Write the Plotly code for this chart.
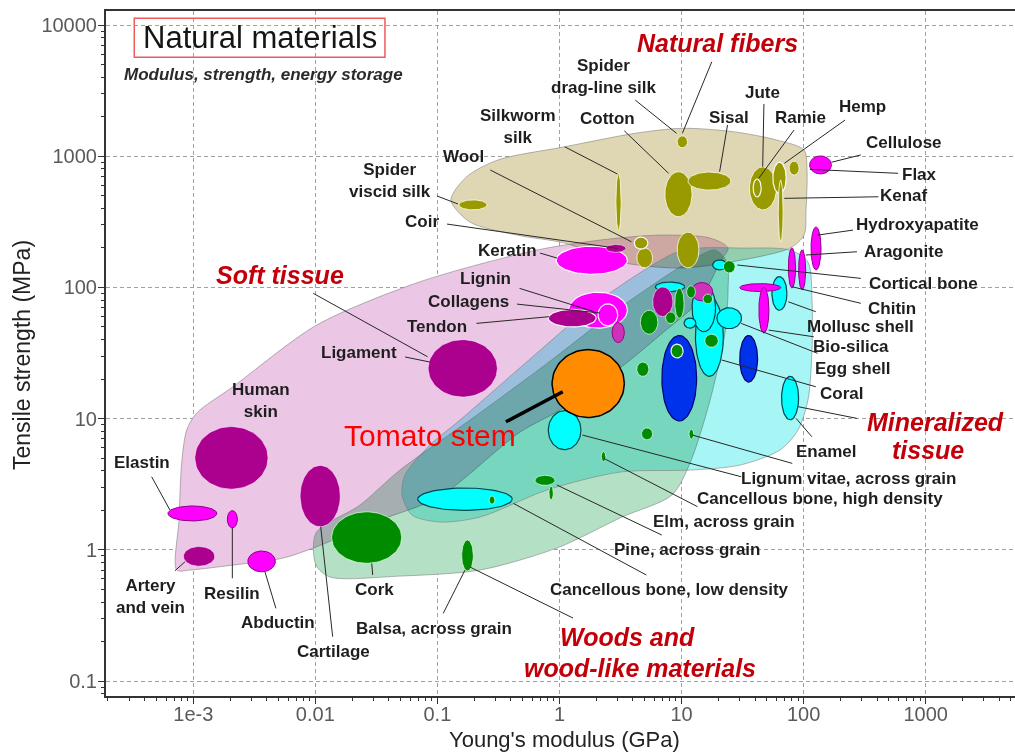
import numpy as np
import plotly.graph_objects as go

FONT = "Liberation Sans, Arial, Helvetica, sans-serif"

# ---------------------------------------------------------------------------
# Material-class envelopes, vertices as log10(E / GPa) and log10(strength / MPa)
# ---------------------------------------------------------------------------
FIBER_ENV_LOGE = [-0.889, -0.760, -0.503, 0.043, 0.621, 1.007, 1.424, 1.778, 2.004, 2.028,
                  2.020, 2.004, 1.889, 1.397, 0.987, 0.496, 0.045, -0.348, -0.733]
FIBER_ENV_LOGS = [2.666, 2.844, 2.972, 3.072, 3.175, 3.213, 3.187, 3.124, 3.047, 2.895,
                  2.590, 2.399, 2.300, 2.193, 2.148, 2.193, 2.338, 2.399, 2.498]

SOFT_ENV_LOGE = [-3.136, -3.117, -3.095, -3.054, -2.972, -2.675, -1.989, -1.143, -0.184, 0.332,
                 0.824, 1.234, 1.381, 1.315, 1.151, 0.824, 0.496, 0.005, -0.323, -0.987,
                 -1.470, -1.989, -2.265, -2.675, -3.028]
SOFT_ENV_LOGS = [-0.154, 0.227, 0.662, 0.913, 1.043, 1.243, 1.713, 2.043, 2.285, 2.361,
                 2.399, 2.377, 2.300, 2.193, 1.904, 1.637, 1.386, 1.066, 0.898, 0.402,
                 0.227, 0.024, -0.063, -0.116, -0.154]

WOOD_ENV_LOGE = [-1.995, -1.635, -1.307, -0.733, -0.118, 0.414, 0.824, 1.111, 1.274, 1.372,
                 1.381, 1.356, 1.234, 1.070, 0.922, 0.512, -0.012, -0.651, -1.307, -1.880, -1.995]
WOOD_ENV_LOGS = [0.128, 0.341, 0.608, 0.989, 1.409, 1.790, 2.057, 2.224, 2.285, 2.193,
                 1.980, 1.653, 1.142, 0.662, 0.418, 0.250, 0.017, -0.154, -0.200, -0.207, -0.116]

MINERAL_ENV_LOGE = [0.943, 1.151, 1.479, 1.889, 2.036, 2.069, 2.069, 2.036, 1.954, 1.807,
                    1.479, 1.070, 0.496, -0.102, -0.651, -0.979, -1.208, -1.290, -1.266, -1.061,
                    -0.815, -0.250, 0.332]
MINERAL_ENV_LOGS = [2.262, 2.300, 2.300, 2.285, 2.193, 1.904, 1.523, 1.142, 0.913, 0.761,
                    0.646, 0.608, 0.593, 0.456, 0.250, 0.212, 0.265, 0.418, 0.570, 0.799,
                    0.989, 1.447, 1.904]

# ---------------------------------------------------------------------------
# Materials: (name, E low, E high [GPa], strength low, strength high [MPa], tone)
# ---------------------------------------------------------------------------
MINERALIZED = [
    ("Cortical bone", 18, 23.4, 136, 162, "cyan"),
    ("Bone", 6.9, 13.3, 9.6, 43, "blue"),
    ("Egg shell", 30, 42, 19, 43, "blue"),
    ("Coral", 13, 22, 21, 85, "cyan"),
    ("Coral, dense", 12.2, 19, 46, 106, "cyan"),
    ("Dentin", 6.1, 10.6, 93, 110, "cyan"),
    ("Antler", 10.5, 13.1, 49, 58.5, "cyan"),
    ("Bio-silica", 19.5, 31, 48.5, 70, "cyan"),
    ("Mollusc shell", 55, 73, 67, 121, "cyan"),
    ("Enamel", 66, 91, 9.8, 21, "cyan"),
    ("Pine, across grain", 0.069, 0.41, 2.0, 2.96, "cyan"),
    ("Cancellous bone", 0.81, 1.5, 5.8, 11.5, "cyan"),
    ("Chitin", 30, 65, 93, 107, "magenta"),
    ("Chitin, oriented", 43, 52, 45, 100, "magenta"),
    ("Aragonite", 75, 86, 99, 200, "magenta"),
    ("Calcite", 91, 104, 96, 193, "magenta"),
    ("Hydroxyapatite", 115, 139, 136, 289, "magenta"),
]

SOFT_TISSUE = [
    ("Keratin", 0.94, 3.6, 126, 206, "magenta"),
    ("Coir", 2.4, 3.5, 185, 213, "purple"),
    ("Lignin", 1.19, 3.6, 49, 92, "magenta"),
    ("Lignin, dense", 2.07, 3.0, 51, 75, "magenta"),
    ("Collagens", 2.7, 3.4, 38, 54, "orchid"),
    ("Tendon", 0.81, 2.0, 50, 68, "purple"),
    ("Ligament", 0.084, 0.31, 14.6, 40, "purple"),
    ("Human skin", 0.00103, 0.0041, 2.9, 8.7, "purple"),
    ("Cartilage", 0.0075, 0.016, 1.5, 4.4, "purple"),
    ("Elastin", 0.00062, 0.00156, 1.66, 2.16, "magenta"),
    ("Resilin", 0.0019, 0.0023, 1.47, 1.99, "magenta"),
    ("Artery and vein", 0.00083, 0.0015, 0.75, 1.06, "purple"),
    ("Abductin", 0.0028, 0.0047, 0.68, 0.98, "magenta"),
    ("Protein A", 5.8, 8.5, 60, 101, "purple"),
    ("Protein B", 12, 18, 79, 109, "orchid"),
]

NATURAL_FIBERS = [
    ("Spider viscid silk", 0.15, 0.255, 390, 465, "fiber"),
    ("Silkworm silk", 2.9, 3.2, 270, 745, "fiber"),
    ("Spider drag-line silk", 9.2, 11.2, 1160, 1430, "fiber"),
    ("Cotton", 7.3, 12.2, 346, 762, "fiber"),
    ("Fiber, low", 9.2, 13.9, 141, 264, "fiber"),
    ("Sisal", 11.3, 25.4, 552, 758, "fiber"),
    ("Jute", 36, 60, 390, 830, "fiber"),
    ("Jute, core", 38.6, 44.9, 489, 670, "fiber"),
    ("Ramie", 56, 72, 520, 900, "fiber"),
    ("Kenaf", 62, 68, 222, 658, "fiber"),
    ("Hemp", 76, 92, 718, 918, "fiber"),
    ("Cellulose", 112, 169, 733, 1005, "magenta"),
    ("Wool", 4.3, 5.8, 141, 200, "fiber"),
    ("Wool, fine", 4.1, 5.3, 196, 242, "fiber"),
]

WOODS = [
    ("Cork", 0.0136, 0.051, 0.79, 1.95, "wood"),
    ("Balsa, across grain", 0.158, 0.197, 0.69, 1.19, "wood"),
    ("Pine, core", 0.265, 0.296, 2.23, 2.57, "wood"),
    ("Elm, across grain", 0.63, 0.92, 3.1, 3.7, "wood"),
    ("Elm, narrow", 0.82, 0.89, 2.4, 3.06, "wood"),
    ("Cancellous, high density", 2.2, 2.4, 4.7, 5.6, "wood"),
    ("Wood 1", 4.7, 5.8, 6.9, 8.5, "wood"),
    ("Lignum vitae, across grain", 11.5, 12.6, 7.0, 8.3, "wood"),
    ("Wood 2", 4.3, 5.4, 21, 27, "wood"),
    ("Wood 3", 4.6, 6.4, 44, 67, "wood"),
    ("Wood 4", 7.4, 9.0, 53, 65, "wood"),
    ("Wood 5", 8.8, 10.5, 58, 99, "wood"),
    ("Wood 6", 11, 13, 83, 103, "wood"),
    ("Wood 7", 15, 18, 75, 89, "wood"),
    ("Wood 8", 15.5, 20, 35, 44, "wood"),
    ("Bone, core", 8.2, 10.3, 29, 37, "wood"),
    ("Cortical, axial", 22, 27.5, 129, 160, "wood"),
]

TOMATO = [("Tomato stem", 0.87, 3.4, 10.2, 33.6, "tomato")]

# Leader lines: (log E start, log S start, log E end, log S end)
LEADERS = [
    (1.248, 3.720, 1.007, 3.175), (0.621, 3.428, 0.959, 3.175), (0.043, 3.072, 0.476, 2.864),
    (0.531, 3.194, 0.894, 2.870), (1.377, 3.238, 1.312, 2.882), (1.675, 3.398, 1.665, 2.920),
    (1.922, 3.200, 1.633, 2.832), (2.340, 3.276, 1.842, 2.946), (2.469, 3.010, 2.228, 2.954),
    (2.774, 2.870, 2.051, 2.900), (2.613, 2.691, 1.842, 2.679), (2.405, 2.437, 2.115, 2.399),
    (2.437, 2.272, 2.019, 2.247), (-0.567, 2.895, 0.590, 2.348), (-1.003, 2.697, -0.831, 2.636),
    (-0.921, 2.483, 0.476, 2.298), (-0.159, 2.262, -0.020, 2.224), (-0.327, 1.993, 0.284, 1.815),
    (-0.348, 1.873, 0.332, 1.805), (-0.680, 1.726, -0.086, 1.777), (-1.265, 1.470, -1.060, 1.431),
    (-2.017, 1.955, -1.081, 1.472), (1.457, 2.171, 2.469, 2.069), (1.907, 2.005, 2.469, 1.879),
    (1.874, 1.891, 2.100, 1.815), (1.714, 1.675, 2.083, 1.624), (1.489, 1.726, 2.115, 1.498),
    (1.329, 1.447, 2.100, 1.243), (1.955, 1.091, 2.437, 1.002), (1.938, 1.002, 2.068, 0.862),
    (1.088, 0.875, 1.907, 0.659), (0.188, 0.875, 1.489, 0.557), (0.364, 0.697, 1.131, 0.329),
    (-0.021, 0.494, 0.838, 0.113), (-0.377, 0.354, 0.712, -0.192), (-0.733, -0.131, 0.111, -0.520),
    (-3.341, 0.557, -3.191, 0.303), (-3.150, -0.159, -3.068, -0.091), (-2.680, 0.168, -2.680, -0.217),
    (-2.413, -0.167, -2.323, -0.446), (-1.956, 0.176, -1.858, -0.662), (-1.538, -0.103, -1.530, -0.192),
    (-0.774, -0.154, -0.952, -0.484),
]
TOMATO_POINTER = (-0.439, 0.976, 0.027, 1.205)

# Material labels: (text, log E, log S)
BLACK_LABELS = [
    ("Spider<br>drag-line silk", 0.357, 3.608), ("Silkworm<br>silk", -0.343, 3.230),
    ("Cotton", 0.396, 3.289), ("Sisal", 1.392, 3.296), ("Jute", 1.665, 3.487),
    ("Ramie", 1.971, 3.296), ("Hemp", 2.479, 3.377), ("Cellulose", 2.823, 3.103),
    ("Flax", 2.951, 2.864), ("Kenaf", 2.823, 2.704), ("Hydroxyapatite", 2.934, 2.483),
    ("Aragonite", 2.815, 2.272), ("Wool", -0.786, 2.996), ("Spider<br>viscid silk", -1.388, 2.818),
    ("Coir", -1.129, 2.501), ("Keratin", -0.423, 2.280), ("Lignin", -0.606, 2.069),
    ("Collagens", -0.744, 1.891), ("Tendon", -1.001, 1.706), ("Ligament", -1.640, 1.502),
    ("Human<br>skin", -2.445, 1.139), ("Elastin", -3.423, 0.664), ("Artery<br>and vein", -3.354, -0.352),
    ("Resilin", -2.685, -0.332), ("Abductin", -2.304, -0.556), ("Cartilage", -1.853, -0.777),
    ("Cork", -1.519, -0.301), ("Balsa, across grain", -1.028, -0.596),
    ("Cortical bone", 2.983, 2.031), ("Chitin", 2.725, 1.841), ("Mollusc shell", 2.469, 1.706),
    ("Bio-silica", 2.389, 1.548), ("Egg shell", 2.405, 1.383), ("Coral", 2.307, 1.193),
    ("Enamel", 2.180, 0.748), ("Lignum vitae, across grain", 2.372, 0.545),
    ("Cancellous bone, high density", 2.135, 0.393), ("Elm, across grain", 1.348, 0.214),
    ("Pine, across grain", 1.047, 0.004), ("Cancellous bone, low density", 0.902, -0.301),
]
CLASS_LABELS = [
    ("Natural fibers", 1.296, 3.861), ("Soft tissue", -2.290, 2.094),
    ("Mineralized", 3.079, 0.976), ("tissue", 3.016, 0.761),
    ("Woods and", 0.558, -0.662), ("wood-like materials", 0.656, -0.903),
]

X_TICKS = [0.001, 0.01, 0.1, 1, 10, 100, 1000]
X_TICK_TEXT = ["1e-3", "0.01", "0.1", "1", "10", "100", "1000"]
Y_TICKS = [0.1, 1, 10, 100, 1000, 10000]
Y_TICK_TEXT = ["0.1", "1", "10", "100", "1000", "10000"]

# ---------------------------------------------------------------------------
ENVELOPES = [
    (FIBER_ENV_LOGE, FIBER_ENV_LOGS, "rgb(223,215,180)"),
    (SOFT_ENV_LOGE, SOFT_ENV_LOGS, "rgb(235,198,229)"),
    (WOOD_ENV_LOGE, WOOD_ENV_LOGS, "rgb(180,224,198)"),
    (MINERAL_ENV_LOGE, MINERAL_ENV_LOGS, "rgb(168,245,245)"),
]

TONE_FILL = {
    "fiber": "rgb(153,153,0)", "magenta": "rgb(255,0,255)", "purple": "rgb(172,0,142)",
    "orchid": "rgb(205,50,185)", "wood": "rgb(0,140,0)", "cyan": "rgb(0,255,255)",
    "blue": "rgb(0,50,235)", "tomato": "rgb(255,140,0)",
}
TONE_LINE = {
    "fiber": ("rgba(245,245,215,0.9)", 1), "magenta": ("rgb(140,0,140)", 1),
    "purple": ("rgba(255,230,255,0.6)", 1), "orchid": ("rgb(150,0,140)", 1),
    "wood": ("rgba(225,255,225,0.7)", 1), "cyan": ("rgb(0,70,80)", 1.2),
    "blue": ("rgb(0,0,110)", 1.2), "tomato": ("black", 1.5),
}
WHITE_RIM = {"Keratin", "Lignin", "Lignin, dense", "Tendon", "Jute, core", "Ramie",
             "Wool, fine", "Bone, core"}


def ellipse_xy(e_lo, e_hi, s_lo, s_hi, n=80):
    lx0, lx1 = np.log10(e_lo), np.log10(e_hi)
    ly0, ly1 = np.log10(s_lo), np.log10(s_hi)
    t = np.linspace(0, 2 * np.pi, n)
    cx, cy = (lx0 + lx1) / 2, (ly0 + ly1) / 2
    rx, ry = (lx1 - lx0) / 2, (ly1 - ly0) / 2
    return 10 ** (cx + rx * np.cos(t)), 10 ** (cy + ry * np.sin(t))


fig = go.Figure()

for loge, logs, color in ENVELOPES:
    xs = [10 ** v for v in loge] + [10 ** loge[0]]
    ys = [10 ** v for v in logs] + [10 ** logs[0]]
    fig.add_trace(go.Scatter(
        x=xs, y=ys, mode="lines", fill="toself", fillcolor=color,
        line=dict(color="rgba(120,120,120,0.55)", width=1, shape="spline", smoothing=0.8),
        hoverinfo="skip", showlegend=False))

for group in (MINERALIZED, SOFT_TISSUE, NATURAL_FIBERS, WOODS, TOMATO):
    for name, e_lo, e_hi, s_lo, s_hi, tone in group:
        xs, ys = ellipse_xy(e_lo, e_hi, s_lo, s_hi)
        lc, lw = TONE_LINE[tone]
        if name in WHITE_RIM:
            lc, lw = "rgba(255,255,255,0.95)", 1.2
        fig.add_trace(go.Scatter(
            x=xs, y=ys, mode="lines", fill="toself", fillcolor=TONE_FILL[tone],
            line=dict(color=lc, width=lw), name=name, hoverinfo="name", showlegend=False))

lx, ly = [], []
for a, b, c, d in LEADERS:
    lx += [10 ** a, 10 ** c, None]
    ly += [10 ** b, 10 ** d, None]
fig.add_trace(go.Scatter(x=lx, y=ly, mode="lines", line=dict(color="rgb(40,40,40)", width=1),
                         hoverinfo="skip", showlegend=False))
a, b, c, d = TOMATO_POINTER
fig.add_trace(go.Scatter(x=[10 ** a, 10 ** c], y=[10 ** b, 10 ** d], mode="lines",
                         line=dict(color="black", width=3.5), hoverinfo="skip", showlegend=False))

annotations = []
for text, le, ls in BLACK_LABELS:
    annotations.append(dict(x=le, y=ls, xref="x", yref="y", text=f"<b>{text}</b>",
                            showarrow=False, font=dict(family=FONT, size=17, color="#1e1e1e"),
                            xanchor="center", yanchor="middle"))
for text, le, ls in CLASS_LABELS:
    annotations.append(dict(x=le, y=ls, xref="x", yref="y", text=f"<b><i>{text}</i></b>",
                            showarrow=False, font=dict(family=FONT, size=25, color="rgb(195,0,10)"),
                            xanchor="center", yanchor="middle"))
annotations.append(dict(x=-1.063, y=0.875, xref="x", yref="y", text="Tomato stem", showarrow=False,
                        font=dict(family=FONT, size=30, color="rgb(255,0,0)"),
                        xanchor="center", yanchor="middle"))
annotations.append(dict(x=0.1692, y=0.961, xref="paper", yref="paper", text="Natural materials",
                        showarrow=False, font=dict(family=FONT, size=31, color="#151515"),
                        xanchor="center", yanchor="middle"))
annotations.append(dict(x=0.1728, y=0.9080, xref="paper", yref="paper",
                        text="<b><i>Modulus, strength, energy storage</i></b>", showarrow=False,
                        font=dict(family=FONT, size=17, color="#2a2a2a"),
                        xanchor="center", yanchor="middle"))
annotations.append(dict(x=0.5044, y=-0.0642, xref="paper", yref="paper",
                        text="Young's modulus (GPa)", showarrow=False,
                        font=dict(family=FONT, size=22, color="#222"),
                        xanchor="center", yanchor="middle"))
annotations.append(dict(x=-0.0924, y=0.4978, xref="paper", yref="paper",
                        text="Tensile strength (MPa)", showarrow=False, textangle=-90,
                        font=dict(family=FONT, size=23, color="#222"),
                        xanchor="center", yanchor="middle"))

minor_x = [k * 10.0 ** p for p in range(-4, 4) for k in range(2, 10)]
minor_y = [k * 10.0 ** p for p in range(-2, 4) for k in range(2, 10)]

axis_common = dict(
    type="log", showline=True, linecolor="#333", linewidth=2,
    ticks="outside", ticklen=6, tickwidth=1.2, tickcolor="#333",
    showgrid=True, gridcolor="rgb(160,160,160)", gridwidth=1, griddash="4px,3px",
    zeroline=False, tickfont=dict(family=FONT, size=20, color="#5a5a5a"),
)

fig.update_layout(
    width=1015, height=754,
    margin=dict(l=106, r=0, t=11, b=58),
    paper_bgcolor="white", plot_bgcolor="white",
    showlegend=False, hovermode=False,
    xaxis=dict(range=[-3.715, 3.732], tickmode="array", tickvals=X_TICKS, ticktext=X_TICK_TEXT,
               mirror=True, ticklabelstandoff=-7,
               minor=dict(tickmode="array", tickvals=minor_x, ticks="outside", ticklen=3,
                          tickcolor="#333", showgrid=False),
               **axis_common),
    yaxis=dict(range=[-1.114, 4.107], tickmode="array", tickvals=Y_TICKS, ticktext=Y_TICK_TEXT,
               ticklabelstandoff=-3,
               minor=dict(tickmode="array", tickvals=minor_y, ticks="outside", ticklen=3,
                          tickcolor="#333", showgrid=False),
               **axis_common),
    annotations=annotations,
    shapes=[dict(type="rect", xref="paper", yref="paper", x0=0.0311, x1=0.3069,
                 y0=0.9324, y1=0.9894, line=dict(color="rgb(240,90,90)", width=1.5),
                 fillcolor="rgba(0,0,0,0)", layer="above")],
)

BLEND_JS = """
var gd = document.getElementById('{plot_id}');
function blendEnvelopes() {
  var groups = gd.querySelectorAll('.scatterlayer .trace');
  for (var i = 0; i < N_ENV && i < groups.length; i++) {
    groups[i].querySelectorAll('.js-fill').forEach(function (p) {
      p.style.mixBlendMode = 'multiply';
    });
  }
}
blendEnvelopes();
if (gd.on) { gd.on('plotly_afterplot', blendEnvelopes); }
""".replace("N_ENV", str(len(ENVELOPES)))

fig.write_html("out.html", post_script=BLEND_JS, config={"displayModeBar": False})
